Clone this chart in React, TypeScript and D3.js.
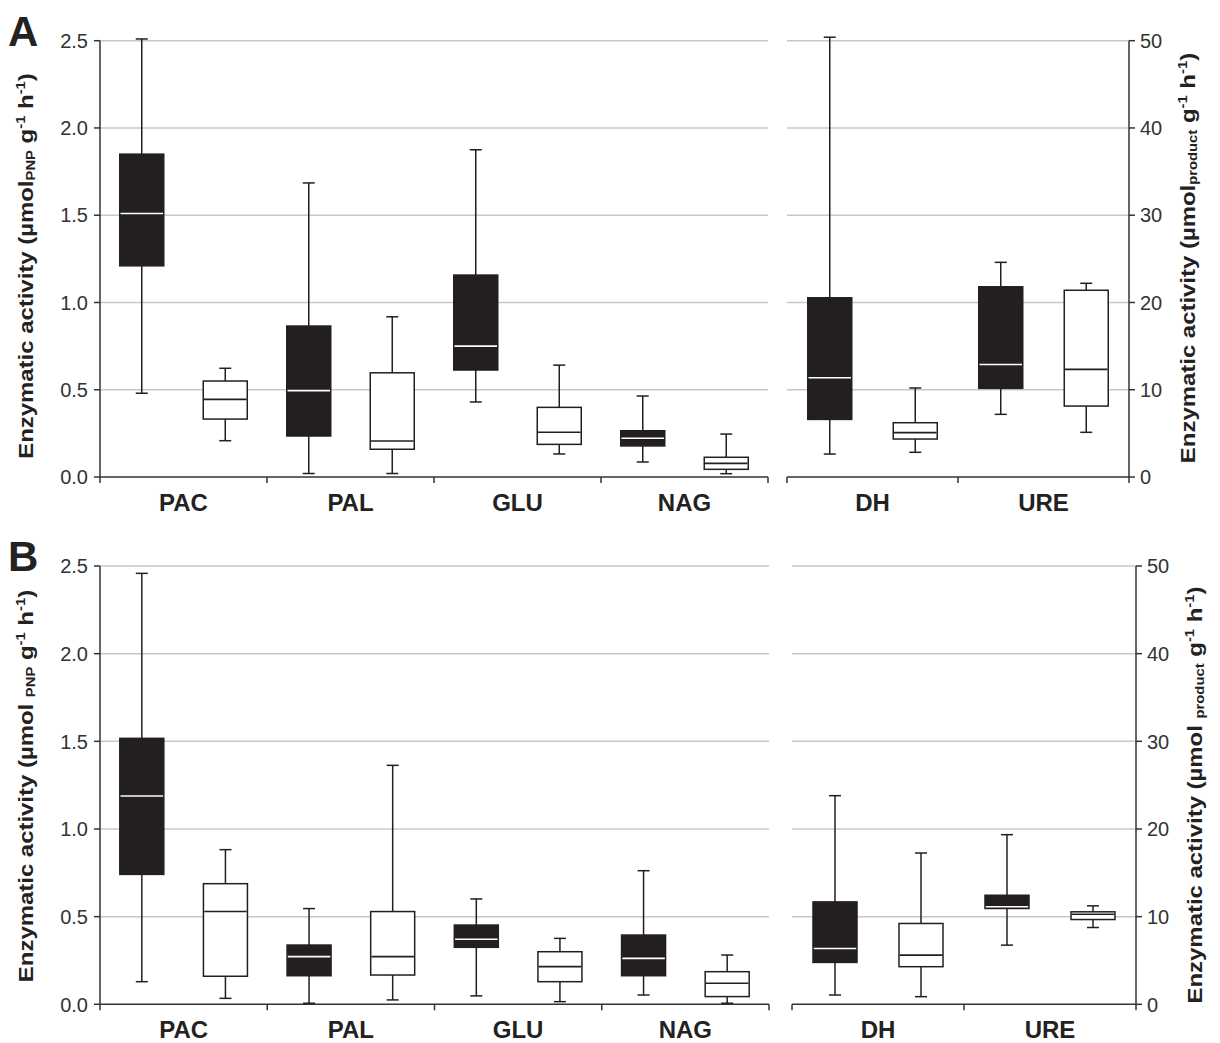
import React from "react";
import * as d3 from "d3";

// ---------- data ----------
const leftCategories = ["PAC", "PAL", "GLU", "NAG"];
const rightCategories = ["DH", "URE"];
const leftTicks = [0, 0.5, 1.0, 1.5, 2.0, 2.5];
const rightTicks = [0, 10, 20, 30, 40, 50];

// box stats: [low whisker, Q1, median, Q3, high whisker]
const panelA_leftDark = [
  [0.48, 1.21, 1.51, 1.85, 2.51],
  [0.02, 0.235, 0.495, 0.865, 1.685],
  [0.43, 0.613, 0.75, 1.157, 1.875],
  [0.086, 0.178, 0.222, 0.265, 0.464],
];
const panelA_leftWhite = [
  [0.208, 0.332, 0.445, 0.55, 0.623],
  [0.02, 0.159, 0.206, 0.597, 0.918],
  [0.132, 0.187, 0.256, 0.399, 0.641],
  [0.019, 0.044, 0.078, 0.113, 0.246],
];
const panelA_rightDark = [
  [2.63, 6.6, 11.37, 20.54, 50.4],
  [7.18, 10.16, 12.9, 21.8, 24.6],
];
const panelA_rightWhite = [
  [2.83, 4.35, 5.08, 6.22, 10.2],
  [5.12, 8.13, 12.33, 21.4, 22.2],
];

const panelB_leftDark = [
  [0.129, 0.741, 1.188, 1.517, 2.458],
  [0.006, 0.163, 0.272, 0.338, 0.546],
  [0.048, 0.325, 0.371, 0.452, 0.601],
  [0.053, 0.163, 0.262, 0.395, 0.762],
];
const panelB_leftWhite = [
  [0.034, 0.16, 0.529, 0.688, 0.882],
  [0.025, 0.167, 0.272, 0.529, 1.363],
  [0.015, 0.129, 0.215, 0.3, 0.376],
  [0.006, 0.044, 0.12, 0.186, 0.281],
];
const panelB_rightDark = [
  [1.06, 4.78, 6.37, 11.68, 23.8],
  [6.75, 10.93, 11.12, 12.44, 19.35],
];
const panelB_rightWhite = [
  [0.87, 4.29, 5.61, 9.22, 17.26],
  [8.76, 9.67, 10.28, 10.55, 11.23],
];

// ---------- layout ----------
const panels = [
  {
    letter: "A",
    top: 40.7, bottom: 477,
    lx0: 100, lx1: 768, rx0: 787, rx1: 1129,
    leftDark: panelA_leftDark, leftWhite: panelA_leftWhite,
    rightDark: panelA_rightDark, rightWhite: panelA_rightWhite,
    pnpSpace: false,
    leftTitleY: 266, rightTitleY: 258,
    rightTitleX: 1195,
  },
  {
    letter: "B",
    top: 566, bottom: 1004.3,
    lx0: 100, lx1: 769, rx0: 792, rx1: 1136,
    leftDark: panelB_leftDark, leftWhite: panelB_leftWhite,
    rightDark: panelB_rightDark, rightWhite: panelB_rightWhite,
    pnpSpace: true,
    leftTitleY: 786, rightTitleY: 795,
    rightTitleX: 1202,
  },
];

const FONT = "'Liberation Sans', Arial, sans-serif";
const AXIS = "#333";
const GRID = "#c8c8c8";
const DARK = "#231f20";
const BOXW = 44;
const CAPW = 12;

function Box({ cx, s, y, dark }: { cx: number; s: number[]; y: any; dark: boolean }) {
  const [lo, q1, med, q3, hi] = s;
  return (
    <g>
      <line x1={cx} x2={cx} y1={y(lo)} y2={y(q1)} stroke={DARK} strokeWidth={1.5} />
      <line x1={cx} x2={cx} y1={y(q3)} y2={y(hi)} stroke={DARK} strokeWidth={1.5} />
      <line x1={cx - CAPW / 2} x2={cx + CAPW / 2} y1={y(lo)} y2={y(lo)} stroke={DARK} strokeWidth={1.5} />
      <line x1={cx - CAPW / 2} x2={cx + CAPW / 2} y1={y(hi)} y2={y(hi)} stroke={DARK} strokeWidth={1.5} />
      <rect
        x={cx - BOXW / 2}
        y={y(q3)}
        width={BOXW}
        height={y(q1) - y(q3)}
        fill={dark ? DARK : "#fff"}
        stroke={DARK}
        strokeWidth={1.5}
      />
      <line
        x1={cx - BOXW / 2 + 0.75}
        x2={cx + BOXW / 2 - 0.75}
        y1={y(med)}
        y2={y(med)}
        stroke={dark ? "#fff" : DARK}
        strokeWidth={1.6}
      />
    </g>
  );
}

function YTitle({ x, y, sub, space }: { x: number; y: number; sub: string; space: boolean }) {
  return (
    <text
      transform={`translate(${x},${y}) rotate(-90) scale(1.14,1)`}
      textAnchor="middle"
      fontFamily={FONT}
      fontWeight="bold"
      fontSize={21}
      fill="#222"
    >
      <tspan>{"Enzymatic activity (µmol" + (space ? " " : "")}</tspan>
      <tspan fontSize={13} dy={2}>{sub}</tspan>
      <tspan dy={-2}>{" g"}</tspan>
      <tspan fontSize={13} dy={-8}>{"-1"}</tspan>
      <tspan dy={8}>{" h"}</tspan>
      <tspan fontSize={13} dy={-8}>{"-1"}</tspan>
      <tspan dy={8}>{")"}</tspan>
    </text>
  );
}

function Panel({ p }: { p: (typeof panels)[number] }) {
  const yL = d3.scaleLinear().domain([0, 2.5]).range([p.bottom, p.top]);
  const yR = d3.scaleLinear().domain([0, 50]).range([p.bottom, p.top]);
  const xL = d3.scaleBand().domain(leftCategories).range([p.lx0, p.lx1]);
  const xR = d3.scaleBand().domain(rightCategories).range([p.rx0, p.rx1]);
  const bwL = xL.bandwidth();
  const bwR = xR.bandwidth();
  const fmt = d3.format(".1f");

  return (
    <g>
      {/* gridlines */}
      {leftTicks.filter((t) => t > 0).map((t) => (
        <line key={"gl" + t} x1={p.lx0} x2={p.lx1} y1={yL(t)} y2={yL(t)} stroke={GRID} strokeWidth={1.5} />
      ))}
      {rightTicks.filter((t) => t > 0).map((t) => (
        <line key={"gr" + t} x1={p.rx0} x2={p.rx1} y1={yR(t)} y2={yR(t)} stroke={GRID} strokeWidth={1.5} />
      ))}

      {/* left axis */}
      <line x1={p.lx0} x2={p.lx0} y1={p.top} y2={p.bottom + 6} stroke={AXIS} strokeWidth={1.5} />
      {leftTicks.map((t) => (
        <g key={"lt" + t}>
          <line x1={p.lx0 - 6} x2={p.lx0} y1={yL(t)} y2={yL(t)} stroke={AXIS} strokeWidth={1.5} />
          <text x={p.lx0 - 12} y={yL(t)} dy="0.36em" textAnchor="end" fontFamily={FONT} fontSize={20} fill="#333">
            {fmt(t)}
          </text>
        </g>
      ))}
      {/* left x axis */}
      <line x1={p.lx0} x2={p.lx1} y1={p.bottom} y2={p.bottom} stroke={AXIS} strokeWidth={1.5} />
      {leftCategories.map((c, i) => (
        <g key={"lc" + c}>
          {i > 0 && <line x1={xL(c)!} x2={xL(c)!} y1={p.bottom} y2={p.bottom + 6} stroke={AXIS} strokeWidth={1.5} />}
          <text x={xL(c)! + bwL / 2} y={p.bottom + 34} textAnchor="middle" fontFamily={FONT} fontWeight="bold" fontSize={24} fill="#222">
            {c}
          </text>
        </g>
      ))}
      <line x1={p.lx1} x2={p.lx1} y1={p.bottom} y2={p.bottom + 6} stroke={AXIS} strokeWidth={1.5} />

      {/* right x axis */}
      <line x1={p.rx0} x2={p.rx1} y1={p.bottom} y2={p.bottom} stroke={AXIS} strokeWidth={1.5} />
      <line x1={p.rx0} x2={p.rx0} y1={p.bottom} y2={p.bottom + 6} stroke={AXIS} strokeWidth={1.5} />
      {rightCategories.map((c, i) => (
        <g key={"rc" + c}>
          {i > 0 && <line x1={xR(c)!} x2={xR(c)!} y1={p.bottom} y2={p.bottom + 6} stroke={AXIS} strokeWidth={1.5} />}
          <text x={xR(c)! + bwR / 2} y={p.bottom + 34} textAnchor="middle" fontFamily={FONT} fontWeight="bold" fontSize={24} fill="#222">
            {c}
          </text>
        </g>
      ))}
      {/* right axis */}
      <line x1={p.rx1} x2={p.rx1} y1={p.top} y2={p.bottom + 6} stroke={AXIS} strokeWidth={1.5} />
      {rightTicks.map((t) => (
        <g key={"rt" + t}>
          <line x1={p.rx1} x2={p.rx1 + 6} y1={yR(t)} y2={yR(t)} stroke={AXIS} strokeWidth={1.5} />
          <text x={p.rx1 + 11} y={yR(t)} dy="0.36em" textAnchor="start" fontFamily={FONT} fontSize={20} fill="#333">
            {t}
          </text>
        </g>
      ))}

      {/* boxes */}
      {leftCategories.map((c, i) => (
        <g key={"bl" + c}>
          <Box cx={xL(c)! + bwL * 0.25} s={p.leftDark[i]} y={yL} dark={true} />
          <Box cx={xL(c)! + bwL * 0.75} s={p.leftWhite[i]} y={yL} dark={false} />
        </g>
      ))}
      {rightCategories.map((c, i) => (
        <g key={"br" + c}>
          <Box cx={xR(c)! + bwR * 0.25} s={p.rightDark[i]} y={yR} dark={true} />
          <Box cx={xR(c)! + bwR * 0.75} s={p.rightWhite[i]} y={yR} dark={false} />
        </g>
      ))}

      {/* titles */}
      <YTitle x={33} y={p.leftTitleY} sub="PNP" space={p.pnpSpace} />
      <YTitle x={p.rightTitleX} y={p.rightTitleY} sub="product" space={p.pnpSpace} />

      <text x={8} y={p.top + 5} fontFamily={FONT} fontWeight="bold" fontSize={42} fill="#222">
        {p.letter}
      </text>
    </g>
  );
}

export default function App() {
  return (
    <svg
      width={1220}
      height={1043}
      viewBox="0 0 1220 1043"
      style={{ position: "absolute", left: 0, top: 0, background: "#fff" }}
    >
      <rect x={0} y={0} width={1220} height={1043} fill="#fff" />
      {panels.map((p) => (
        <Panel key={p.letter} p={p} />
      ))}
    </svg>
  );
}
